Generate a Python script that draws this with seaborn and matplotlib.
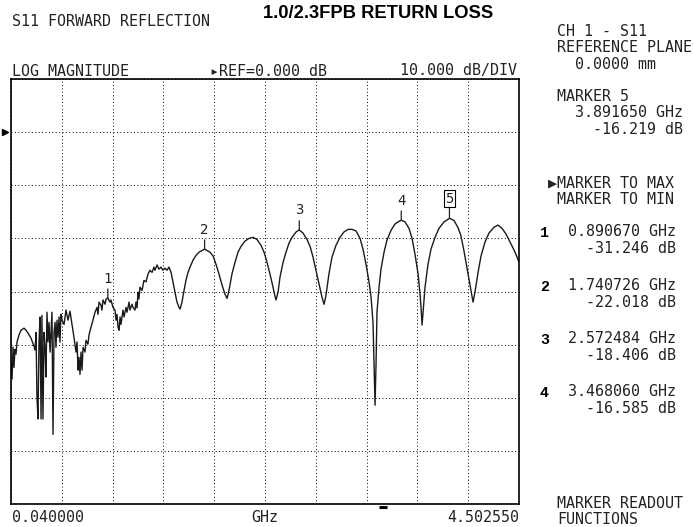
import matplotlib
matplotlib.use("Agg")
import matplotlib.pyplot as plt
import seaborn as sns
import pandas as pd
import numpy as np

# S11 trace
freq_ghz = [
    0.040, 0.049, 0.058, 0.066, 0.075, 0.084, 0.093, 0.110, 0.128, 0.154,
    0.172, 0.189, 0.216, 0.242, 0.251, 0.260, 0.268, 0.277, 0.286, 0.295,
    0.304, 0.312, 0.321, 0.330, 0.339, 0.347, 0.356, 0.365, 0.374, 0.383,
    0.391, 0.400, 0.409, 0.418, 0.427, 0.435, 0.444, 0.453, 0.462, 0.470,
    0.479, 0.488, 0.506, 0.523, 0.541, 0.558, 0.576, 0.593, 0.611, 0.620,
    0.629, 0.637, 0.646, 0.655, 0.664, 0.673, 0.690, 0.699, 0.716, 0.725,
    0.743, 0.760, 0.778, 0.796, 0.804, 0.813, 0.831, 0.839, 0.848, 0.866,
    0.875, 0.8907, 0.910, 0.918, 0.936, 0.954, 0.962, 0.971, 0.980, 0.989,
    0.998, 1.006, 1.024, 1.033, 1.050, 1.059, 1.077, 1.085, 1.103, 1.112,
    1.129, 1.138, 1.147, 1.156, 1.164, 1.173, 1.191, 1.208, 1.226, 1.244,
    1.261, 1.279, 1.296, 1.305, 1.323, 1.340, 1.358, 1.375, 1.393, 1.410,
    1.428, 1.446, 1.463, 1.481, 1.498, 1.516, 1.525, 1.542, 1.560, 1.577,
    1.595, 1.613, 1.639, 1.665, 1.692, 1.718, 1.7407, 1.762, 1.788, 1.815,
    1.841, 1.867, 1.894, 1.920, 1.938, 1.955, 1.981, 2.008, 2.034, 2.061,
    2.096, 2.131, 2.166, 2.201, 2.236, 2.263, 2.289, 2.315, 2.342, 2.359,
    2.368, 2.386, 2.403, 2.430, 2.456, 2.482, 2.509, 2.544, 2.5725, 2.605,
    2.640, 2.667, 2.693, 2.719, 2.746, 2.772, 2.790, 2.807, 2.833, 2.860,
    2.895, 2.930, 2.965, 3.001, 3.036, 3.071, 3.106, 3.132, 3.159, 3.185,
    3.203, 3.220, 3.229, 3.238, 3.247, 3.255, 3.273, 3.290, 3.317, 3.343,
    3.378, 3.413, 3.440, 3.4681, 3.501, 3.536, 3.563, 3.589, 3.616, 3.633,
    3.642, 3.651, 3.660, 3.677, 3.703, 3.730, 3.765, 3.800, 3.844, 3.8917,
    3.930, 3.965, 3.991, 4.018, 4.044, 4.070, 4.088, 4.099, 4.116, 4.143,
    4.169, 4.204, 4.239, 4.283, 4.318, 4.353, 4.389, 4.424, 4.459, 4.485,
    4.5025,
]
s11_db = [
    -43.3, -46.5, -40.5, -44.3, -40.9, -41.8, -39.5, -38.2, -37.3, -36.9,
    -37.3, -37.8, -38.8, -40.3, -41.0, -37.7, -49.9, -54.0, -39.5, -34.8,
    -54.0, -34.5, -54.0, -37.7, -40.5, -46.1, -33.9, -39.5, -35.8, -41.4,
    -37.7, -33.9, -56.9, -37.7, -35.8, -40.5, -35.4, -38.6, -34.8, -39.5,
    -34.3, -35.4, -36.2, -33.5, -35.4, -33.7, -36.2, -38.6, -41.4, -39.5,
    -44.8, -42.4, -45.6, -41.4, -44.8, -40.5, -41.4, -39.2, -39.9, -38.2,
    -36.7, -35.4, -33.9, -33.0, -34.3, -32.0, -32.6, -33.5, -31.6, -32.4,
    -31.4, -31.246, -32.0, -31.6, -33.0, -33.5, -35.4, -34.3, -36.7, -37.3,
    -34.8, -36.2, -33.5, -34.8, -33.0, -33.9, -32.0, -33.5, -32.4, -33.0,
    -33.5, -32.0, -33.1, -30.1, -31.4, -29.2, -29.8, -27.9, -28.2, -26.7,
    -26.0, -26.4, -25.4, -26.0, -25.0, -25.8, -25.4, -26.0, -25.6, -26.0,
    -25.4, -26.4, -28.2, -30.1, -32.0, -33.0, -33.3, -32.0, -29.8, -27.9,
    -26.4, -25.4, -24.1, -23.2, -22.6, -22.3, -22.018, -22.3, -22.6, -23.3,
    -24.9, -26.7, -28.8, -30.5, -31.3, -29.8, -26.7, -24.5, -22.6, -21.5,
    -20.5, -20.0, -19.8, -20.2, -21.3, -22.6, -24.5, -26.7, -29.2, -30.9,
    -31.6, -30.1, -27.3, -24.5, -22.6, -20.9, -19.8, -18.8, -18.406, -19.0,
    -20.2, -21.5, -23.5, -26.0, -28.6, -31.1, -32.4, -30.7, -26.7, -23.5,
    -21.3, -19.8, -18.8, -18.3, -18.3, -18.6, -20.0, -22.0, -24.9, -28.2,
    -31.1, -35.8, -43.3, -51.4, -43.3, -33.9, -29.2, -25.8, -22.6, -20.3,
    -18.5, -17.3, -16.9, -16.585, -16.9, -18.1, -20.0, -23.0, -26.7, -30.5,
    -33.0, -36.3, -33.9, -29.2, -24.9, -22.0, -19.8, -18.1, -16.9, -16.219,
    -16.6, -17.9, -19.4, -22.2, -25.4, -28.6, -30.7, -32.0, -30.1, -26.4,
    -23.3, -20.7, -19.0, -17.9, -17.5, -18.1, -19.2, -20.7, -22.2, -23.5,
    -24.5,
]

marker_ids = [1, 2, 3, 4, 5]
marker_ghz = [0.890670, 1.740726, 2.572484, 3.468060, 3.891650]
marker_db = [-31.246, -22.018, -18.406, -16.585, -16.219]
active_marker = 5

f_start, f_stop = 0.040000, 4.502550
ref_db, db_per_div = 0.0, 10.0

W, H = 694, 527


def px(x, y):
    # screen pixel -> figure fraction
    return x / W, 1 - y / H


sns.set_theme(style="white")
plt.rcParams["font.family"] = ["DejaVu Sans Mono", "DejaVu Sans"]

fig = plt.figure(figsize=(W / 100, H / 100), dpi=100)
ax = fig.add_axes([11 / W, 23 / H, 508 / W, 425 / H])

df = pd.DataFrame({"freq": freq_ghz, "s11": s11_db})
sns.lineplot(data=df, x="freq", y="s11", ax=ax, estimator=None, sort=False,
             color="#1a1a1a", linewidth=1.0)

ax.set_xlim(f_start, f_stop)
ax.set_ylim(ref_db - 7 * db_per_div, ref_db + db_per_div)
ax.set_xticks(np.linspace(f_start, f_stop, 11))
ax.set_yticks(np.arange(ref_db - 7 * db_per_div, ref_db + db_per_div + 1, db_per_div))
ax.tick_params(length=0, labelbottom=False, labelleft=False)
ax.grid(True, color="black", linestyle=(0, (1, 2.5)), linewidth=0.7)
ax.set_xlabel("")
ax.set_ylabel("")
for sp in ax.spines.values():
    sp.set_color("black")
    sp.set_linewidth(1.2)

# reference position arrow
ax.plot([-0.012], [ref_db], marker=">", color="black", markersize=5,
        transform=ax.get_yaxis_transform(), clip_on=False)
# small stimulus indicator under the grid
ax.plot([0.724, 0.740], [-0.006, -0.006], color="black", lw=2.2,
        transform=ax.transAxes, clip_on=False, solid_capstyle="butt")

# marker flags
for mid, mf, md in zip(marker_ids, marker_ghz, marker_db):
    box = None
    if mid == active_marker:
        box = dict(boxstyle="square,pad=0.12", fc="white", ec="black", lw=0.8)
    ax.annotate(str(mid), xy=(mf, md), xytext=(0, 9), textcoords="offset points",
                ha="center", va="bottom", fontsize=10, color="#222222", bbox=box,
                arrowprops=dict(arrowstyle="-", lw=0.9, color="#222222",
                                shrinkA=0, shrinkB=0))

fs = 10.8
ls = 1.16
txt = dict(fontsize=fs, color="#222222", va="center", ha="left",
           linespacing=ls)

fig.text(*px(378, 14), "1.0/2.3FPB RETURN LOSS", ha="center", va="center",
         fontsize=13.2, fontweight="bold", family="Liberation Sans", color="black")
fig.text(*px(12, 21), "S11 FORWARD REFLECTION", **txt)
fig.text(*px(12, 71), "LOG MAGNITUDE", **txt)
fig.text(*px(210, 71), f"\u25b8REF={ref_db:.3f} dB", **txt)
fig.text(*px(517, 71), f"{db_per_div:.3f} dB/DIV",
         **{**txt, "ha": "right"})

fig.text(*px(12, 517), f"{f_start:.6f}", **txt)
fig.text(*px(265, 517), "GHz", **{**txt, "ha": "center"})
fig.text(*px(519, 517), f"{f_stop:.6f}", **{**txt, "ha": "right"})

# right-hand readout panel
rx = 557
fig.text(*px(rx, 48), "CH 1 - S11\nREFERENCE PLANE\n  0.0000 mm", **txt)

ai = marker_ids.index(active_marker)
fig.text(*px(rx, 113),
         f"MARKER {active_marker}\n  {marker_ghz[ai]:.6f} GHz\n"
         f"    {marker_db[ai]:.3f} dB", **txt)

fig.text(*px(548, 191), "\u25b6MARKER TO MAX\n MARKER TO MIN", **txt)

row_y = [233, 287, 340, 393]
for mid, mf, md, yy in zip(marker_ids[:4], marker_ghz[:4], marker_db[:4], row_y):
    fig.text(*px(540, yy), str(mid), ha="left", fontsize=fs, fontweight="bold",
             family="Liberation Mono", color="black", va="center")
    fig.text(*px(568, yy + 7), f"{mf:.6f} GHz\n  {md:.3f} dB", **txt)

fig.text(*px(rx, 511.5), "MARKER READOUT\nFUNCTIONS", **txt)

fig.savefig("out.png", dpi=100, facecolor="white")
